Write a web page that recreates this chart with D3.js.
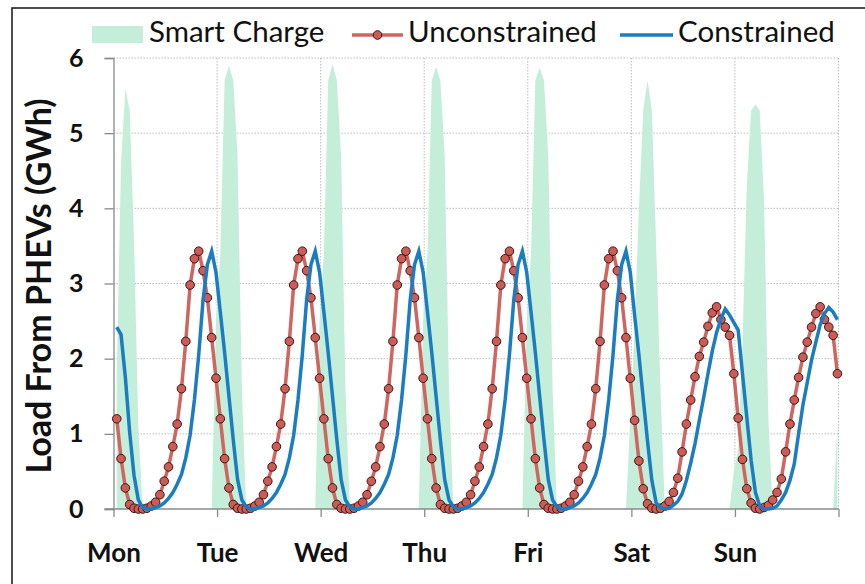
<!DOCTYPE html>
<html>
<head>
<meta charset="utf-8">
<script src="https://cdn.jsdelivr.net/npm/d3@7"></script>
<style>
  body { margin: 0; background: #fff; }
  svg text { font-family: Lato, "Open Sans", sans-serif; fill: #111; }
</style>
</head>
<body>
<div id="chart"></div>
<script>
// day labels under the x axis, one per day boundary
const days = ["Mon", "Tue", "Wed", "Thu", "Fri", "Sat", "Sun"];
const yTicks = [0, 1, 2, 3, 4, 5, 6];

// hourly values, GWh (one row per day, 24 hours)
const smartCharge = [
  1.8, 4.6, 5.6, 5.3, 3.6, 1.1, 0, 0, 0, 0, 0, 0, 0, 0, 0, 0, 0, 0, 0, 0, 0, 0, 0, 2.5,
  3.4, 5.7, 5.9, 5.7, 4.7, 1.6, 0, 0, 0, 0, 0, 0, 0, 0, 0, 0, 0, 0, 0, 0, 0, 0, 0, 2.5,
  3.4, 5.7, 5.92, 5.7, 4.7, 1.6, 0, 0, 0, 0, 0, 0, 0, 0, 0, 0, 0, 0, 0, 0, 0, 0, 0, 2.5,
  3.4, 5.7, 5.88, 5.7, 4.7, 1.6, 0, 0, 0, 0, 0, 0, 0, 0, 0, 0, 0, 0, 0, 0, 0, 0, 0, 2.5,
  3.4, 5.7, 5.87, 5.7, 4.7, 1.6, 0, 0, 0, 0, 0, 0, 0, 0, 0, 0, 0, 0, 0, 0, 0, 0, 0, 1.2,
  2.4, 4.0, 5.3, 5.7, 5.3, 3.5, 1.6, 0, 0, 0, 0, 0, 0, 0, 0, 0, 0, 0, 0, 0, 0, 0, 0, 0.5,
  0.8, 2.2, 4.3, 5.3, 5.38, 5.3, 4.1, 1.2, 0, 0, 0, 0, 0, 0, 0, 0, 0, 0, 0, 0, 0, 0, 0, 1.1
];

const unconstrained = [
  1.20, 0.67, 0.28, 0.06, 0.01, 0, 0, 0.01, 0.04, 0.09, 0.19, 0.37, 0.56, 0.83, 1.13, 1.60, 2.23, 2.98, 3.33, 3.43, 3.17, 2.81, 2.28, 1.74,
  1.20, 0.67, 0.28, 0.06, 0.01, 0, 0, 0.01, 0.04, 0.09, 0.19, 0.37, 0.56, 0.83, 1.13, 1.60, 2.23, 2.98, 3.33, 3.43, 3.17, 2.81, 2.28, 1.74,
  1.20, 0.67, 0.28, 0.06, 0.01, 0, 0, 0.01, 0.04, 0.09, 0.19, 0.37, 0.56, 0.83, 1.13, 1.60, 2.23, 2.98, 3.33, 3.43, 3.17, 2.81, 2.28, 1.74,
  1.20, 0.67, 0.28, 0.06, 0.01, 0, 0, 0.01, 0.04, 0.09, 0.19, 0.37, 0.56, 0.83, 1.13, 1.60, 2.23, 2.98, 3.33, 3.43, 3.17, 2.81, 2.28, 1.74,
  1.20, 0.67, 0.28, 0.06, 0.01, 0, 0, 0.01, 0.04, 0.09, 0.19, 0.37, 0.56, 0.83, 1.13, 1.60, 2.23, 2.98, 3.33, 3.43, 3.17, 2.81, 2.28, 1.74,
  1.18, 0.64, 0.27, 0.07, 0.01, 0, 0.01, 0.04, 0.10, 0.22, 0.41, 0.76, 1.13, 1.45, 1.76, 2.03, 2.22, 2.43, 2.61, 2.69, 2.52, 2.42, 2.31, 1.80,
  1.21, 0.66, 0.27, 0.08, 0.01, 0, 0.02, 0.05, 0.12, 0.22, 0.40, 0.76, 1.13, 1.45, 1.75, 2.02, 2.22, 2.42, 2.60, 2.69, 2.52, 2.42, 2.31, 1.80
];

const constrained = [
  2.42, 2.32, 1.75, 1.02, 0.45, 0.12, 0.02, 0, 0, 0.02, 0.04, 0.08, 0.14, 0.22, 0.33, 0.46, 0.68, 0.98, 1.45, 2.05, 2.78, 3.25, 3.43, 3.15,
  2.62, 2.08, 1.50, 0.92, 0.39, 0.12, 0.03, 0, 0, 0.02, 0.04, 0.08, 0.14, 0.22, 0.33, 0.46, 0.68, 0.98, 1.45, 2.05, 2.78, 3.25, 3.43, 3.15,
  2.62, 2.08, 1.50, 0.92, 0.39, 0.12, 0.03, 0, 0, 0.02, 0.04, 0.08, 0.14, 0.22, 0.33, 0.46, 0.68, 0.98, 1.45, 2.05, 2.78, 3.25, 3.43, 3.15,
  2.62, 2.08, 1.50, 0.92, 0.39, 0.12, 0.03, 0, 0, 0.02, 0.04, 0.08, 0.14, 0.22, 0.33, 0.46, 0.68, 0.98, 1.45, 2.05, 2.78, 3.25, 3.43, 3.15,
  2.62, 2.08, 1.50, 0.92, 0.39, 0.12, 0.03, 0, 0, 0.02, 0.04, 0.08, 0.14, 0.22, 0.33, 0.46, 0.68, 0.98, 1.45, 2.05, 2.78, 3.25, 3.43, 3.15,
  2.58, 2.05, 1.47, 0.90, 0.38, 0.08, 0.02, 0, 0.01, 0.05, 0.10, 0.20, 0.38, 0.61, 0.87, 1.18, 1.48, 1.80, 2.10, 2.35, 2.53, 2.66, 2.58, 2.48,
  2.38, 1.80, 1.22, 0.65, 0.22, 0.04, 0, 0, 0.01, 0.04, 0.12, 0.22, 0.38, 0.60, 1.00, 1.38, 1.68, 1.98, 2.22, 2.45, 2.60, 2.68, 2.62, 2.52
];

const W = 865, H = 584;
const plotLeft = 113.5, plotRight = 838.5, plotTop = 58, plotBottom = 509;

const svg = d3.select("#chart").append("svg")
  .attr("width", W)
  .attr("height", H);

// outer frame (cropped on the right and bottom like the source)
svg.append("rect")
  .attr("x", 12).attr("y", 8)
  .attr("width", 900).attr("height", 700)
  .attr("fill", "#fff")
  .attr("stroke", "#222")
  .attr("stroke-width", 1.6);

const x = d3.scaleLinear().domain([0, 168]).range([plotLeft, plotRight]);
const y = d3.scaleLinear().domain([0, 6]).range([plotBottom, plotTop]);
// each hourly point sits a little after the hour mark
const xp = (d, i) => x(i + 0.75);

// grid
const grid = svg.append("g");
grid.selectAll(".h")
  .data(yTicks.slice(1))
  .enter().append("line")
  .attr("x1", plotLeft).attr("x2", plotRight)
  .attr("y1", d => y(d)).attr("y2", d => y(d))
  .attr("stroke", "#bdbdbd")
  .attr("stroke-dasharray", "1.5,1.5");
grid.selectAll(".v")
  .data(d3.range(1, 8))
  .enter().append("line")
  .attr("x1", d => x(d * 24)).attr("x2", d => x(d * 24))
  .attr("y1", plotTop).attr("y2", plotBottom)
  .attr("stroke", "#bdbdbd")
  .attr("stroke-dasharray", "1.5,1.5");

// Smart Charge area
svg.append("path")
  .datum(smartCharge)
  .attr("fill", "#c4eed9")
  .attr("d", d3.area().x(xp).y0(y(0)).y1(d => y(d)));

// axes
const yAxis = svg.append("g")
  .attr("transform", "translate(" + plotLeft + ",0)")
  .call(d3.axisLeft(y).tickValues(yTicks).tickFormat(d3.format("d")).tickSize(9).tickPadding(21));
const xAxis = svg.append("g")
  .attr("transform", "translate(0," + plotBottom + ")")
  .call(d3.axisBottom(x).tickValues(d3.range(0, 169, 24)).tickSize(8).tickPadding(27)
    .tickFormat((d, i) => days[i] || ""));
[yAxis, xAxis].forEach(g => {
  g.select(".domain").attr("stroke", "#8a8a8a").attr("stroke-width", 1.3);
  g.selectAll(".tick line").attr("stroke", "#8a8a8a").attr("stroke-width", 1.3);
  g.selectAll("text")
    .style("font-weight", "bold")
    .attr("fill", "#111");
});
yAxis.selectAll("text").style("font-size", "25px");
xAxis.selectAll("text").style("font-size", "26px");
xAxis.select(".domain").attr("d", "M" + (plotLeft - 9) + ",0H" + plotRight);

// Unconstrained line + markers
svg.append("path")
  .datum(unconstrained)
  .attr("fill", "none")
  .attr("stroke", "#d0645e")
  .attr("stroke-width", 3.5)
  .attr("d", d3.line().x(xp).y(d => y(d)));
svg.append("g").selectAll("circle")
  .data(unconstrained)
  .enter().append("circle")
  .attr("cx", xp)
  .attr("cy", d => y(d))
  .attr("r", 4.3)
  .attr("fill", "#cc5c55")
  .attr("stroke", "#3a1714")
  .attr("stroke-width", 1);

// Constrained line
svg.append("path")
  .datum(constrained)
  .attr("fill", "none")
  .attr("stroke", "#1a7dc2")
  .attr("stroke-width", 3.5)
  .attr("d", d3.line().x(xp).y(d => y(d)));

// axis title
svg.append("text")
  .attr("transform", "translate(42,286) rotate(-90)")
  .attr("text-anchor", "middle")
  .attr("dominant-baseline", "middle")
  .style("font-size", "34px")
  .style("font-weight", "bold")
  .text("Load From PHEVs (GWh)");

// legend
const legend = svg.append("g").style("font-size", "29.5px");
legend.append("rect")
  .attr("x", 92).attr("y", 26).attr("width", 51).attr("height", 17)
  .attr("fill", "#c4eed9");
legend.append("text").attr("x", 149).attr("y", 35).attr("dominant-baseline", "middle").text("Smart Charge");
legend.append("line")
  .attr("x1", 352).attr("x2", 403).attr("y1", 35).attr("y2", 35)
  .attr("stroke", "#d0645e").attr("stroke-width", 3.5);
legend.append("circle")
  .attr("cx", 377.5).attr("cy", 35).attr("r", 4.3)
  .attr("fill", "#cc5c55").attr("stroke", "#3a1714");
legend.append("text").attr("x", 408).attr("y", 35).attr("dominant-baseline", "middle").text("Unconstrained");
legend.append("line")
  .attr("x1", 620).attr("x2", 673).attr("y1", 35).attr("y2", 35)
  .attr("stroke", "#1a7dc2").attr("stroke-width", 3.5);
legend.append("text").attr("x", 678).attr("y", 35).attr("dominant-baseline", "middle").text("Constrained");
</script>
</body>
</html>
